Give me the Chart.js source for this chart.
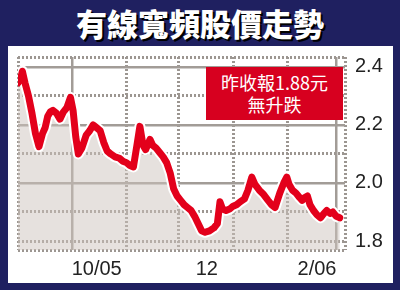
<!DOCTYPE html>
<html>
<head>
<meta charset="utf-8">
<script src="https://cdn.jsdelivr.net/npm/chart.js@4"></script>
<style>
  html, body { margin: 0; padding: 0; }
  body { width: 400px; height: 290px; background: #1f2060; position: relative; overflow: hidden; }
  #title { position: absolute; left: 0; top: 0; width: 400px; height: 46px; line-height: 46px;
    text-align: center; color: #fff; font: 900 31px "Noto Sans CJK TC", sans-serif;
    text-shadow: 2px 2px 0 #000; letter-spacing: 0px; }
  #panel { position: absolute; left: 8px; top: 46px; width: 385px; height: 237px; background: #fff; }
  #chart { position: absolute; left: 0; top: 0; }
  #note { position: absolute; left: 206px; top: 67px; width: 137px; height: 53px; background: #d7001f;
    color: #fff; font: 18px "Noto Sans CJK TC", sans-serif; text-align: center; line-height: 22px;
    box-sizing: border-box; padding-top: 4px; }
</style>
</head>
<body>
<div id="title">有線寬頻股價走勢</div>
<div id="panel"></div>
<canvas id="chart" width="400" height="290"></canvas>
<div id="note">昨收報1.88元<br>無升跌</div>
<script>
// days counted from 1 Sep 2005
const days = [-1, 0.5, 1.5, 3, 5, 7, 9, 11, 13, 14.5, 16, 17.5, 19, 21, 23, 25, 27, 29, 30.5, 32,
  33.5, 35.5, 38, 40, 42, 44, 46, 48, 50, 52, 54.5, 57, 59, 61, 63, 65, 67, 68.7, 70.5, 72,
  74.5, 76, 78, 80, 82, 84, 86, 88, 90, 92, 94, 96, 98, 100, 102, 104, 106, 108.5, 111, 113,
  114.5, 116, 118, 120, 122, 124, 126, 128.5, 130.5, 132.7, 134.5, 137, 139.5, 142, 144, 146, 148.7, 151, 152.7, 154,
  156, 158, 160, 161.5, 163, 164.5, 166, 168, 170, 172, 174, 175.6, 177.5, 179, 181, 183];
const prices = [2.345, 2.36, 2.385, 2.345, 2.30, 2.24, 2.17, 2.125, 2.17, 2.19, 2.23, 2.245, 2.25, 2.24, 2.22, 2.245, 2.26, 2.295, 2.25, 2.16,
  2.10, 2.12, 2.165, 2.18, 2.20, 2.19, 2.18, 2.14, 2.11, 2.10, 2.09, 2.085, 2.075, 2.07, 2.06, 2.055, 2.13, 2.195, 2.13, 2.115,
  2.15, 2.13, 2.12, 2.105, 2.09, 2.07, 2.035, 1.98, 1.955, 1.94, 1.925, 1.915, 1.905, 1.885, 1.86, 1.835, 1.83, 1.835, 1.845, 1.86,
  1.935, 1.91, 1.905, 1.91, 1.92, 1.925, 1.935, 1.945, 1.975, 2.02, 1.995, 1.975, 1.96, 1.94, 1.925, 1.915, 1.965, 2.0, 2.02, 1.995,
  1.975, 1.965, 1.95, 1.94, 1.95, 1.955, 1.925, 1.905, 1.89, 1.88, 1.895, 1.905, 1.895, 1.9, 1.885, 1.88];

const xLabels = ['10/05', '12', '2/06'];
const xLabelDays = [44, 107, 170];
const xSolid = [30, 181];
const xDotted = [-1, 61, 91, 122, 153, 186];
const yLabels = [1.8, 2.0, 2.2, 2.4];
const ySolid = [2.0, 2.2, 2.4];
const yDotted = [1.769, 1.8, 1.9, 2.1, 2.3, 2.434];

const xMin = -1, xMax = 186;
const yMin = 1.769, yMax = 2.434;

const pts = days.map((d, i) => ({ x: d, y: prices[i] }));
const setTicks = arr => s => { s.ticks = arr.map(v => ({ value: v })); };
const dotColor = '#9c9691';
const lineColor = '#a29c97';

new Chart(document.getElementById('chart'), {
  type: 'line',
  data: {
    datasets: [
      { data: pts, borderColor: '#e3001b', borderWidth: 7, pointRadius: 0, tension: 0, fill: false,
        borderJoinStyle: 'round', borderCapStyle: 'round', order: 0 },
      { data: pts, borderColor: '#ffffff', borderWidth: 11, pointRadius: 0, tension: 0,
        fill: 'start', backgroundColor: 'rgba(205,195,190,0.5)', borderJoinStyle: 'round', order: 1 }
    ]
  },
  options: {
    responsive: false,
    animation: false,
    events: [],
    layout: { padding: { left: 18, top: 57, right: 0, bottom: 0 } },
    plugins: { legend: { display: false }, tooltip: { enabled: false } },
    scales: {
      x: {
        type: 'linear', min: xMin, max: xMax, position: 'bottom',
        grid: { display: false, drawTicks: false }, border: { display: false },
        ticks: { padding: 7, color: '#222', font: { family: 'Liberation Sans', size: 20 },
          maxRotation: 0, callback: (v, i) => xLabels[i] },
        afterBuildTicks: setTicks(xLabelDays),
        afterFit: s => { s.height = 40; }
      },
      xs: {
        type: 'linear', min: xMin, max: xMax, position: 'bottom',
        grid: { color: lineColor, lineWidth: 2.5, drawTicks: false }, border: { display: false },
        ticks: { display: false },
        afterBuildTicks: setTicks(xSolid),
        afterFit: s => { s.height = 0; }
      },
      xd: {
        type: 'linear', min: xMin, max: xMax, position: 'bottom',
        grid: { color: dotColor, lineWidth: 3, drawTicks: false }, border: { display: false, dash: [2, 2] },
        ticks: { display: false },
        afterBuildTicks: setTicks(xDotted),
        afterFit: s => { s.height = 0; }
      },
      y: {
        type: 'linear', min: yMin, max: yMax, position: 'right',
        grid: { display: false, drawTicks: false }, border: { display: false },
        ticks: { padding: 10, color: '#222', font: { family: 'Liberation Sans', size: 20 },
          callback: v => v.toFixed(1) },
        afterBuildTicks: setTicks(yLabels),
        afterFit: s => { s.width = 55; }
      },
      ys: {
        type: 'linear', min: yMin, max: yMax, position: 'right',
        grid: { color: lineColor, lineWidth: 2.5, drawTicks: false }, border: { display: false },
        ticks: { display: false },
        afterBuildTicks: setTicks(ySolid),
        afterFit: s => { s.width = 0; }
      },
      yd: {
        type: 'linear', min: yMin, max: yMax, position: 'right',
        grid: { color: dotColor, lineWidth: 3, drawTicks: false }, border: { display: false, dash: [2, 2] },
        ticks: { display: false },
        afterBuildTicks: setTicks(yDotted),
        afterFit: s => { s.width = 0; }
      }
    }
  }
});
</script>
</body>
</html>
